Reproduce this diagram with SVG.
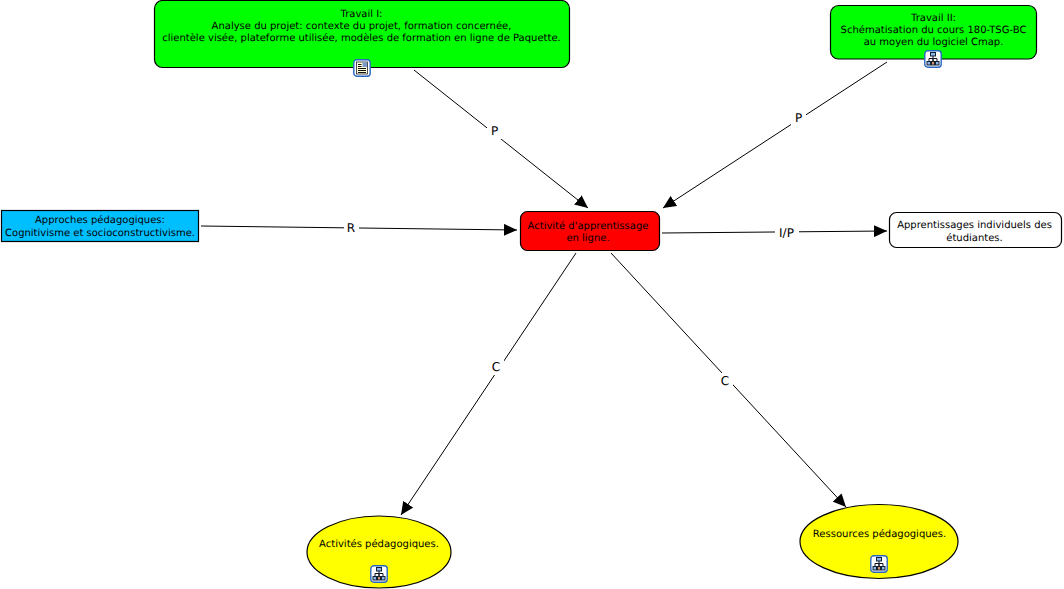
<svg xmlns="http://www.w3.org/2000/svg" width="1064" height="589" viewBox="0 0 1064 589">
<style>
text{font-family:"DejaVu Sans",Verdana,sans-serif;font-size:10px;fill:#000;text-anchor:middle;text-rendering:geometricPrecision}
.n{stroke:#000;stroke-width:1.2}
.g{fill:#00ff00}.r{fill:#ff0000}.b{fill:#00bfff}.w{fill:#fff}.y{fill:#ffff00}
.c{stroke:#000;stroke-width:1;fill:none;marker-end:url(#a)}
.lb{fill:#fff;stroke:none}
text.l{font-size:12px}
</style>
<defs>
<marker id="a" markerUnits="userSpaceOnUse" markerWidth="14" markerHeight="12" refX="13" refY="6" orient="auto"><path d="M0 0L13 6L0 12Z" fill="#000"/></marker>
<symbol id="frame" viewBox="0 0 18 18"><rect x=".8" y=".8" width="16.4" height="16.4" rx="3" fill="#fff" stroke="#2a66c0" stroke-width="1.4"/></symbol>
<g id="map"><use href="#frame" width="18" height="18"/><path d="M9 5.500V11M5 12V8.500H13V12M9 9V12" fill="none" stroke="#112" stroke-width="1"/><rect x="6.500" y="2.500" width="5" height="3.500" fill="#8fb4e8" stroke="#123" stroke-width="1"/><rect x="3" y="11.500" width="3.500" height="3.500" fill="#8fb4e8" stroke="#123" stroke-width="1"/><rect x="7.500" y="11.500" width="3" height="3.500" fill="#e0906a" stroke="#123" stroke-width="1"/><rect x="11.500" y="11.500" width="3.500" height="3.500" fill="#8fb4e8" stroke="#123" stroke-width="1"/></g>
<g id="doc"><use href="#frame" width="18" height="18"/><rect x="3.500" y="3" width="11" height="12" fill="#ffffd8" stroke="#223" stroke-width=".8"/><path d="M5 5.500H8.500M5 7.500H8.500M5 9.500H13M5 11.500H13M5 13.500H13" stroke="#111" stroke-width="1"/><rect x="9.500" y="3.500" width="4.500" height="4.500" fill="#7a9cc8"/></g>
</defs>
<g id="connectors">
<path class="c" d="M414 70L588 208"/>
<path class="c" d="M887 62L663 208"/>
<path class="c" d="M201 226L517 230"/>
<path class="c" d="M662 233L887 231"/>
<path class="c" d="M576 253L401 515"/>
<path class="c" d="M611 253L846 507"/>
<rect class="lb" x="487" y="123" width="15" height="16"/><text class="l" x="494.500" y="135">P</text>
<rect class="lb" x="791" y="110" width="15" height="16"/><text class="l" x="798.500" y="122">P</text>
<rect class="lb" x="344" y="220" width="15" height="16"/><text class="l" x="351" y="232">R</text>
<rect class="lb" x="775" y="225" width="24" height="16"/><text class="l" x="786.500" y="237">I/P</text>
<rect class="lb" x="489" y="359" width="15" height="16"/><text class="l" x="496" y="371">C</text>
<rect class="lb" x="718" y="373" width="15" height="16"/><text class="l" x="725" y="385">C</text>
</g>
<g id="travail1"><rect class="n g" x="154.500" y=".5" width="415" height="67" rx="8"/>
<text x="361.500" y="17">Travail I:</text><text x="361.500" y="29">Analyse du projet: contexte du projet, formation concernée,</text><text x="361.500" y="41">clientèle visée, plateforme utilisée, modèles de formation en ligne de Paquette.</text>
<use href="#doc" x="353" y="59"/></g>
<g id="travail2"><rect class="n g" x="830.500" y="5.500" width="206" height="53.500" rx="8"/>
<text x="933.500" y="21">Travail II:</text><text x="933.500" y="33">Schématisation du cours 180-TSG-BC</text><text x="933.500" y="45">au moyen du logiciel Cmap.</text>
<use href="#map" x="924" y="50"/></g>
<g id="activite"><rect class="n r" x="520.500" y="211.500" width="139" height="39" rx="7"/>
<text x="588" y="229">Activité d'apprentissage</text><text x="588" y="241">en ligne.</text></g>
<g id="approches"><rect class="n b" x="1.500" y="210.500" width="197" height="31"/>
<text x="100" y="223">Approches pédagogiques:</text><text x="100" y="236">Cognitivisme et socioconstructivisme.</text></g>
<g id="apprentissages"><rect class="n w" x="889.500" y="212.500" width="172" height="35" rx="7"/>
<text x="974.500" y="228">Apprentissages individuels des</text><text x="974.500" y="241">étudiantes.</text></g>
<g id="activites"><ellipse class="n y" cx="379" cy="552" rx="72" ry="36"/>
<text x="379" y="547">Activités pédagogiques.</text><use href="#map" x="370" y="565"/></g>
<g id="ressources"><ellipse class="n y" cx="879" cy="541.500" rx="79" ry="37"/>
<text x="879.500" y="537">Ressources pédagogiques.</text><use href="#map" x="870" y="555"/></g>
</svg>
